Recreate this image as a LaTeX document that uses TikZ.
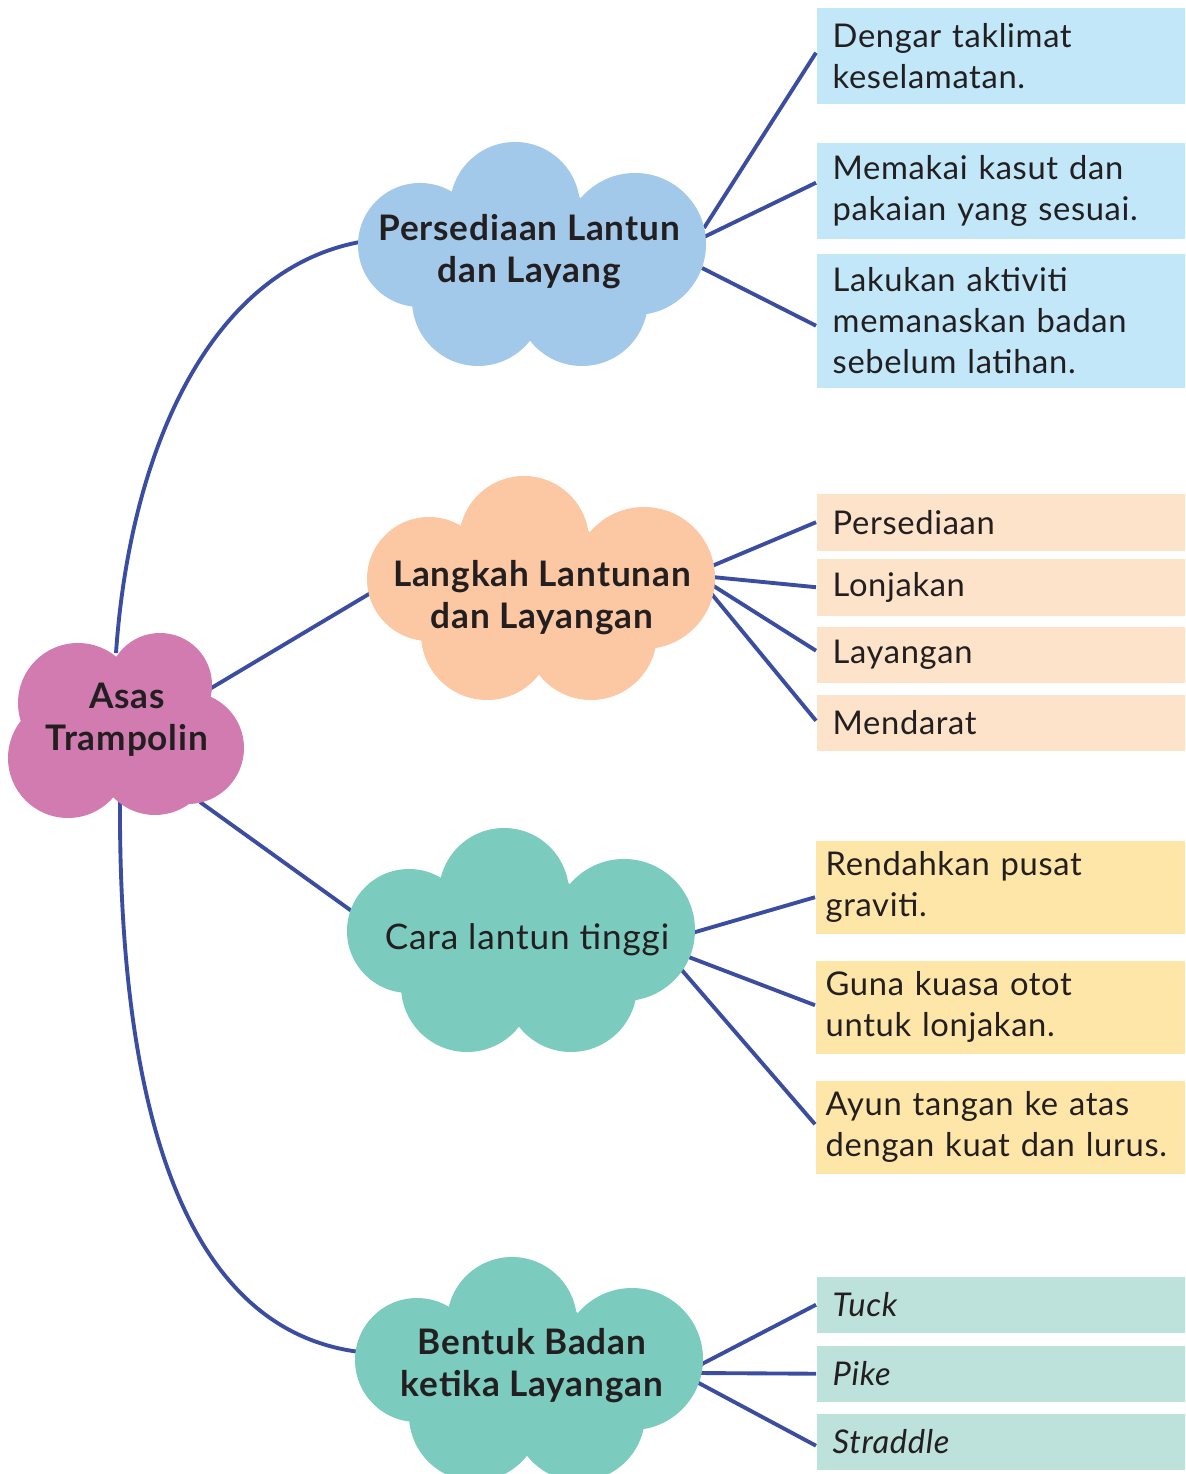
\documentclass[tikz,border=0pt]{standalone}
\usepackage{fontspec}
\setmainfont{Lato}
\newfontfamily\itemfont[LetterSpace=2]{Lato}
\newfontfamily\topicfont[LetterSpace=2.5]{Lato}
\usetikzlibrary{calc}
\usetikzlibrary{positioning}
\definecolor{inkdark}{HTML}{231F20}
\definecolor{linkblue}{HTML}{3A4DA0}
\definecolor{rootpink}{HTML}{D17BB1}
\definecolor{puffblue}{HTML}{A2C8EA}
\definecolor{puffpeach}{HTML}{FBC8A3}
\definecolor{puffteal}{HTML}{7BCBBE}
\definecolor{boxblue}{HTML}{C1E7F8}
\definecolor{boxpeach}{HTML}{FDE3CA}
\definecolor{boxyellow}{HTML}{FEE6A9}
\definecolor{boxteal}{HTML}{BDE2DB}
\tikzstyle{topicnode} = [align=center, text=inkdark, inner sep=0pt, font=\topicfont\bfseries\fontsize{10}{11.9}\selectfont]
\tikzstyle{itemnode} = [anchor=north west, minimum width=3.69cm, text width=3.37cm, inner xsep=0.16cm, inner ysep=0pt, align=left, text=inkdark, font=\itemfont\fontsize{9.3}{11.7}\selectfont]
\tikzstyle{itemnodeB} = [itemnode, text width=3.49cm, inner xsep=0.10cm]
\tikzstyle{link} = [draw=linkblue, line width=1.1pt]
% cloud made of round puffs around a centre
\newcommand{\puff}[2]{
  \fill[#2] ($(#1)+(-17,-48)$) circle (65)
            ($(#1)+(-112,-10)$) circle (62)
            ($(#1)+(103,-11)$) circle (71)
            ($(#1)+(-54,45)$) circle (66)
            ($(#1)+(50,45)$) circle (66)
            (#1) circle (75);
}

\begin{document}
\begin{tikzpicture}[x=0.01cm, y=-0.01cm]
\clip (0,0) rectangle (1185,1474);

% boxes
\node[itemnode, fill=boxblue, minimum height=0.96cm] (s1a) at (816,7) {Dengar taklimat\\keselamatan.};
\node[itemnode, fill=boxblue, minimum height=0.96cm] (s1b) at (816,142) {Memakai kasut dan\\pakaian yang sesuai.};
\node[itemnode, fill=boxblue, minimum height=1.34cm] (s1c) at (816,253) {Lakukan aktiviti\\memanaskan badan\\sebelum latihan.};

\node[itemnode, fill=boxpeach, minimum height=0.57cm] (s2a) at (816,493) {Persediaan};
\node[itemnode, fill=boxpeach, minimum height=0.57cm] (s2b) at (816,558) {Lonjakan};
\node[itemnode, fill=boxpeach, minimum height=0.56cm] (s2c) at (816,626) {Layangan};
\node[itemnode, fill=boxpeach, minimum height=0.56cm] (s2d) at (816,694) {Mendarat};

\node[itemnodeB, fill=boxyellow, minimum height=0.93cm] (s3a) at (815,840) {Rendahkan pusat\\graviti.};
\node[itemnodeB, fill=boxyellow, minimum height=0.93cm] (s3b) at (815,960) {Guna kuasa otot\\untuk lonjakan.};
\node[itemnodeB, fill=boxyellow, minimum height=0.93cm] (s3c) at (815,1080) {Ayun tangan ke atas\\dengan kuat dan lurus.};

\node[itemnode, fill=boxteal, minimum height=0.56cm] (s4a) at (816,1276) {\itshape Tuck};
\node[itemnode, fill=boxteal, minimum height=0.56cm] (s4b) at (816,1345) {\itshape Pike};
\node[itemnode, fill=boxteal, minimum height=0.56cm] (s4c) at (816,1413) {\itshape Straddle};

% cloud centres
\coordinate (root) at (127,720);
\coordinate (p1) at (532,255);
\coordinate (p2) at (541,589);
\coordinate (p3) at (521,941);
\coordinate (p4) at (529,1370);

% links
\draw[link] ($(root)+(-11,-67)$) .. controls +(14,-203) and +(-150,28) .. ($(p1)+(-172,-13)$);
\draw[link] ($(root)+(81,-30)$) -- ($(p2)+(-167,2)$);
\draw[link] ($(root)+(73,82)$) -- ($(p3)+(-168,-29)$);
\draw[link] ($(root)+(-7,75)$) .. controls +(-2,305) and +(-180,-22) .. ($(p4)+(-169,-18)$);

\draw[link] ($(p1)+(172,-27)$) -- ($(s1a.west)+(0,-3)$);
\draw[link] ($(p1)+(172,-18)$) -- ($(s1b.west)+(0,-8)$);
\draw[link] ($(p1)+(170,13)$) -- ($(s1c.west)+(0,5)$);

\draw[link] ($(p2)+(171,-23)$) -- (s2a.west);
\draw[link] ($(p2)+(171,-12)$) -- (s2b.west);
\draw[link] ($(p2)+(171,-4)$) -- ($(s2c.west)+(0,-4)$);
\draw[link] ($(p2)+(169,3)$) -- ($(s2d.west)+(0,-2)$);

\draw[link] ($(p3)+(171,-8)$) -- ($(s3a.west)+(0,10)$);
\draw[link] ($(p3)+(165,15)$) -- ($(s3b.west)+(0,-2)$);
\draw[link] ($(p3)+(159,27)$) -- ($(s3c.west)+(0,-3)$);

\draw[link] ($(p4)+(171,-5)$) -- (s4a.west);
\draw[link] ($(p4)+(169,3)$) -- (s4b.west);
\draw[link] ($(p4)+(166,11)$) -- ($(s4c.west)+(0,4)$);

% clouds
\fill[rootpink] (78,703) circle (60) (160,685) circle (52) (188,748) circle (56)
  (155,757) circle (58) (68,758) circle (60) (125,735) circle (60);
\puff{p1}{puffblue}
\puff{p2}{puffpeach}
\puff{p3}{puffteal}
\puff{p4}{puffteal}

% cloud texts
\node[topicnode] (t0) at (127,720) {Asas\\Trampolin};
\node[topicnode] (t1) at (529,252) {Persediaan Lantun\\dan Layang};
\node[topicnode] (t2) at (542,598) {Langkah Lantunan\\dan Layangan};
\node[topicnode, font=\topicfont\fontsize{10}{11.9}\selectfont] (t3) at (527,940) {Cara lantun tinggi};
\node[topicnode] (t4) at (532,1366) {Bentuk Badan\\ketika Layangan};
\end{tikzpicture}
\end{document}
